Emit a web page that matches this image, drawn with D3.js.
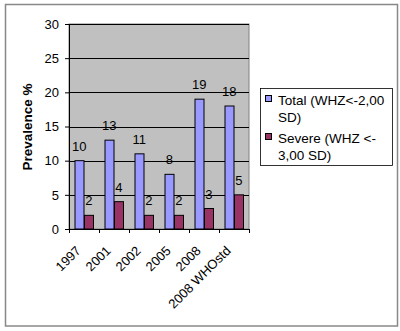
<!DOCTYPE html>
<html><head><meta charset="utf-8">
<script src="https://cdn.jsdelivr.net/npm/d3@7/dist/d3.min.js"></script>
<style>body{margin:0;background:#fff}svg{display:block;font-family:Arial,"Liberation Sans",sans-serif}</style>
</head><body><svg id="c" width="400" height="331"></svg>
<script>
const categories = ["1997","2001","2002","2005","2008","2008 WHOstd"];
const totalValues = [10,13,11,8,19,18];
const severeValues = [2,4,2,2,3,5];
const seriesNames = [["Total (WHZ<-2,00","SD)"],["Severe (WHZ <-","3,00 SD)"]];
const yTicks = [0,5,10,15,20,25,30];
const colors = ["#9999ff","#993366"];

const svg = d3.select("#c");
const pL = 69, pR = 249, pT = 24, pB = 229;

svg.append("rect").attr("x",5.5).attr("y",4.5).attr("width",392).attr("height",321.5)
  .attr("fill","#fff").attr("stroke","#888").attr("stroke-width",1.5);

const x = d3.scaleBand().domain(categories).range([pL,pR]).paddingInner(0).paddingOuter(0);
const y = d3.scaleLinear().domain([0,30]).range([pB,pT]);
const xs = d3.scaleBand().domain([0,1]).range([5.5, 30-5.5]);

svg.append("rect").attr("x",pL).attr("y",pT).attr("width",pR-pL).attr("height",pB-pT)
  .attr("fill","#c0c0c0").attr("stroke","#808080");

svg.append("g").selectAll("line").data(yTicks.filter(d=>d>0)).join("line")
  .attr("x1",pL).attr("x2",pR).attr("y1",d=>Math.round(y(d))+0.5).attr("y2",d=>Math.round(y(d))+0.5)
  .attr("stroke","#000").attr("stroke-width",1);

const series = [totalValues, severeValues];
series.forEach((vals,si)=>{
  const g = svg.append("g");
  g.selectAll("rect").data(vals).join("rect")
    .attr("x",(d,i)=>x(categories[i])+xs(si)+0.5)
    .attr("y",d=>y(d))
    .attr("width",xs.bandwidth()-0.5)
    .attr("height",d=>pB-y(d))
    .attr("fill",colors[si]).attr("stroke","#000").attr("stroke-width",1);
  g.selectAll("text").data(vals).join("text")
    .attr("x",(d,i)=>x(categories[i])+xs(si)+xs.bandwidth()/2)
    .attr("y",d=>y(d)-10)
    .attr("text-anchor","middle").attr("font-size",13).attr("fill","#000")
    .text(d=>d);
});

const yAxis = d3.axisLeft(y).tickValues(yTicks).tickSize(4).tickPadding(6);
const ya = svg.append("g").attr("transform",`translate(${pL},0)`).call(yAxis);
ya.select(".domain").attr("stroke","#000");
ya.selectAll("text").attr("font-size",13).attr("font-family","Arial,'Liberation Sans',sans-serif").attr("fill","#000");

const xa = svg.append("g").attr("transform",`translate(0,${pB})`);
xa.append("line").attr("x1",pL).attr("x2",pR).attr("y1",0.5).attr("y2",0.5).attr("stroke","#000");
xa.selectAll("line.t").data(d3.range(categories.length+1)).join("line").attr("class","t")
  .attr("x1",i=>pL+i*x.step()+0.5).attr("x2",i=>pL+i*x.step()+0.5).attr("y1",0).attr("y2",4).attr("stroke","#000");
xa.selectAll("text").data(categories).join("text")
  .attr("transform",d=>`translate(${x(d)+x.bandwidth()/2-9},${16}) rotate(-45)`)
  .attr("text-anchor","end").attr("dy","0.71em").attr("font-size",13).attr("fill","#000")
  .text(d=>d);

svg.append("text").attr("transform",`translate(32,127) rotate(-90)`)
  .attr("text-anchor","middle").attr("font-size",13.5).attr("font-weight","bold").text("Prevalence %");

const lg = svg.append("g");
lg.append("rect").attr("x",260.5).attr("y",88.5).attr("width",132).attr("height",77)
  .attr("fill","#fff").attr("stroke","#000").attr("stroke-width",0.8);
seriesNames.forEach((lines,i)=>{
  const by = 105 + i*38;
  lg.append("rect").attr("x",265.5).attr("y",by-9.5).attr("width",6).attr("height",6)
    .attr("fill",colors[i]).attr("stroke","#000");
  const t = lg.append("text").attr("font-size",13.5).attr("fill","#000");
  lines.forEach((l,j)=>t.append("tspan").attr("x",278).attr("y",by+j*17).text(l));
});
</script></body></html>
